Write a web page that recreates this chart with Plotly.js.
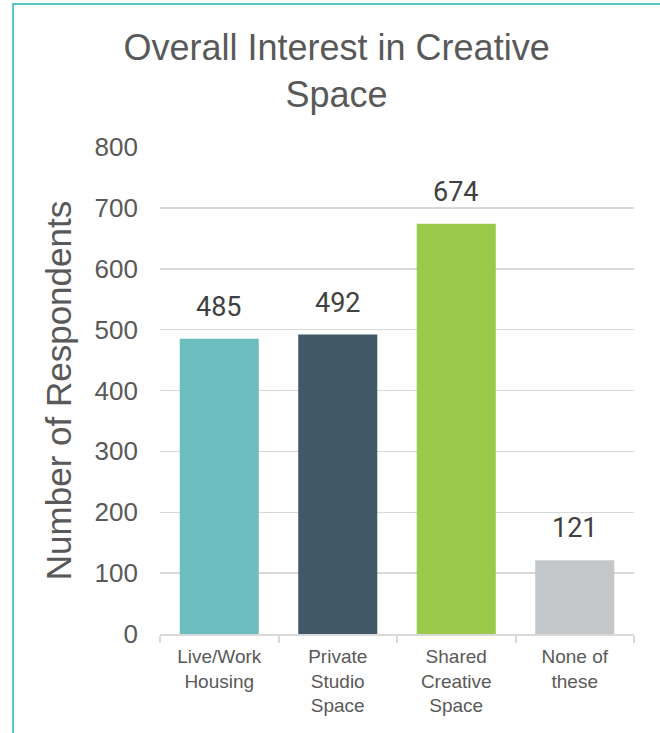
<!DOCTYPE html>
<html><head><meta charset="utf-8">
<script src="https://cdn.plot.ly/plotly-3.0.1.min.js"></script>
<style>
html,body{margin:0;padding:0;background:#fff;}
#wrap{position:relative;width:660px;height:733px;overflow:hidden;}
#frame{position:absolute;left:12px;top:3px;width:700px;height:800px;border-left:2px solid #56C6C6;border-top:2px solid #56C6C6;pointer-events:none;}
#chart{position:absolute;left:0;top:0;width:660px;height:733px;}
</style></head>
<body><div id="wrap"><div id="chart"></div><div id="frame"></div></div>
<script>
const categories = ["Live/Work<br>Housing", "Private<br>Studio<br>Space", "Shared<br>Creative<br>Space", "None of<br>these"];
const respondents = [485, 492, 674, 121];
const barColors = ["#6CBDBD", "#405868", "#9BC94A", "#C4C7C9"];
const yTicks = [0, 100, 200, 300, 400, 500, 600, 700, 800];

const trace = {
  type: 'bar', x: categories, y: respondents,
  marker: {color: barColors},
  hoverinfo: 'none'
};
const labels = categories.map((c, i) => ({
  x: c, y: respondents[i], xref: 'x', yref: 'y',
  text: String(respondents[i]), showarrow: false,
  yanchor: 'bottom', yshift: 14,
  font: {family: 'Roboto, sans-serif', size: 27, color: '#404040'}
}));
const layout = {
  width: 660, height: 733,
  margin: {l: 160, r: 26, t: 147, b: 99},
  paper_bgcolor: '#fff', plot_bgcolor: '#fff',
  showlegend: false, bargap: 0.333,
  title: {text: 'Overall Interest in Creative<br>Space', xref: 'container', x: 0.51, xanchor: 'center',
    yref: 'container', y: 0.918, yanchor: 'middle',
    font: {family: 'Liberation Sans, Arial, sans-serif', size: 36, color: '#595959'}},
  annotations: labels,
  xaxis: {
    tickfont: {family: 'Liberation Sans, Arial, sans-serif', size: 19, color: '#595959'},
    showline: true, linecolor: '#D9D9D9', linewidth: 2,
    ticks: 'outside', tickson: 'boundaries', ticklen: 7, tickcolor: '#D9D9D9', tickwidth: 2,
    ticklabelstandoff: 4,
    showgrid: false, fixedrange: true
  },
  yaxis: {
    range: [0, 800], tickvals: yTicks, ticktext: yTicks.map(String),
    tickfont: {family: 'Liberation Sans, Arial, sans-serif', size: 26, color: '#595959'},
    showgrid: true, gridcolor: '#D9D9D9', gridwidth: 1.5, zeroline: false,
    ticks: '', ticklabelstandoff: 21,
    title: {text: 'Number of Respondents', standoff: 12,
      font: {family: 'Liberation Sans, Arial, sans-serif', size: 35, color: '#595959'}},
    fixedrange: true
  }
};
Plotly.newPlot('chart', [trace], layout, {displayModeBar: false, staticPlot: true});
</script></body></html>
